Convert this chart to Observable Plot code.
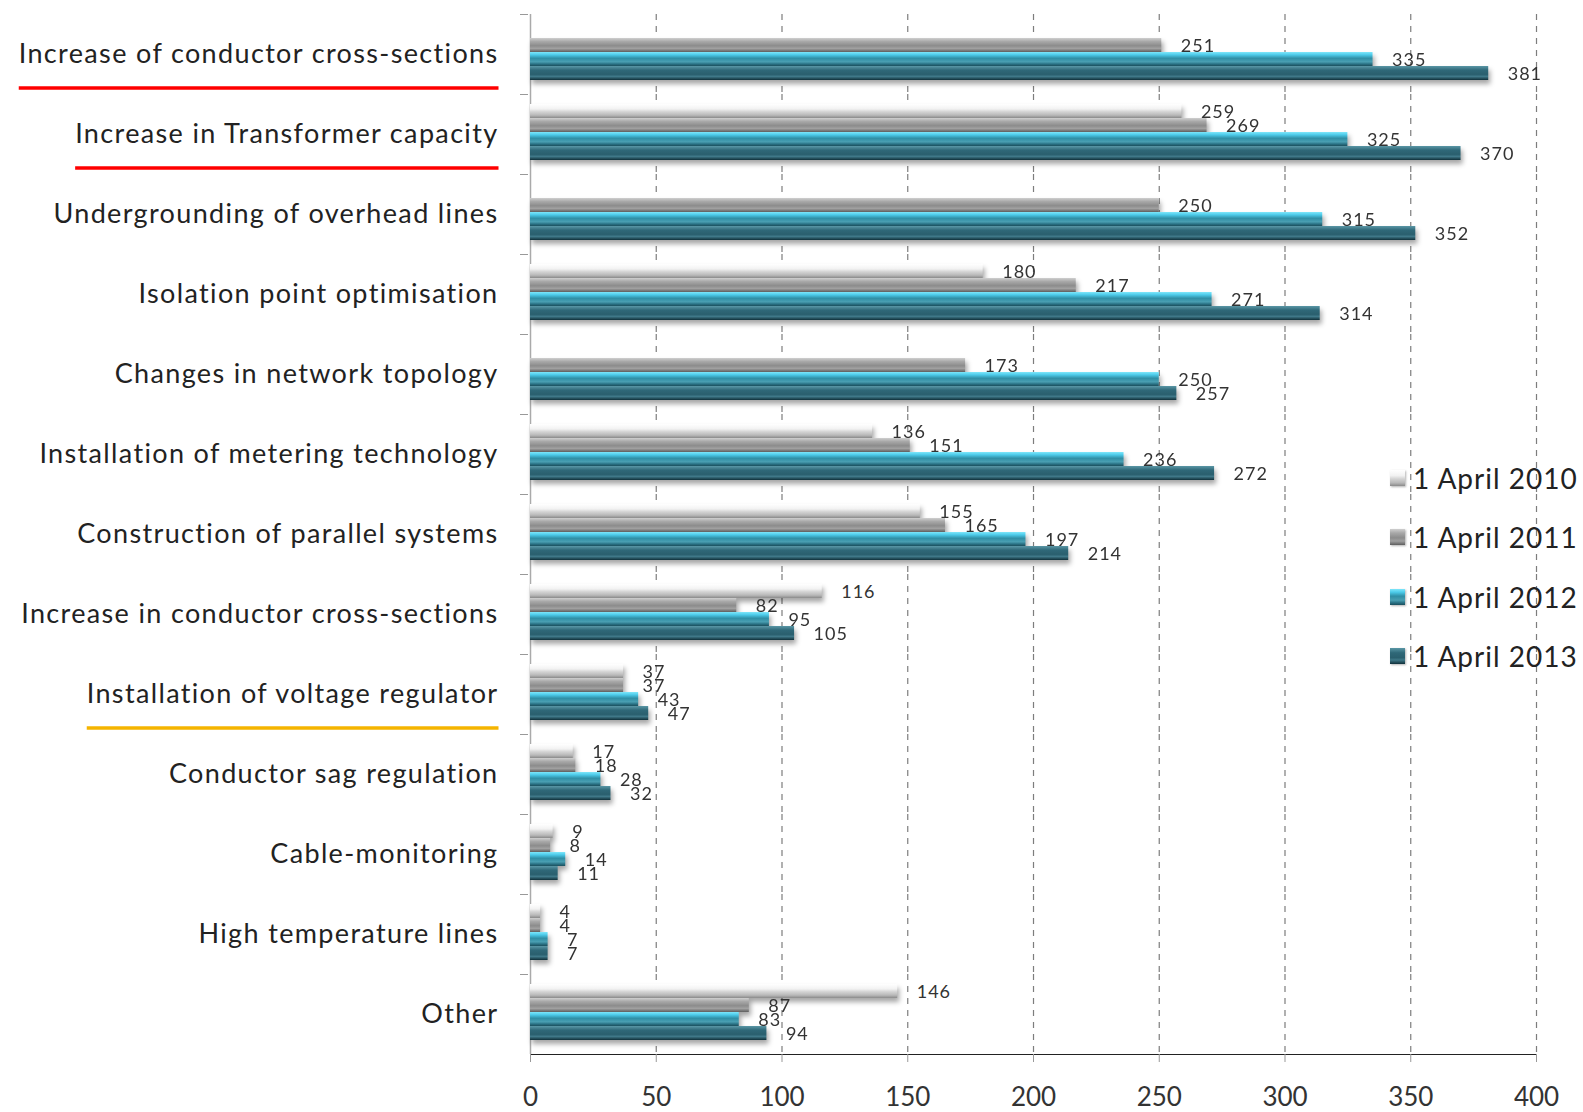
<!DOCTYPE html>
<html><head><meta charset="utf-8">
<script src="https://cdn.jsdelivr.net/npm/d3@7"></script>
<script src="https://cdn.jsdelivr.net/npm/@observablehq/plot@0.6"></script>
<style>
body{margin:0;background:#fff;}
#wrap{position:relative;width:1583px;height:1112px;font-family:Lato,"Noto Sans",sans-serif;}
#legend{position:absolute;left:1390px;top:448px;}
.li{display:flex;align-items:center;height:59.5px;font-size:28px;color:#222;letter-spacing:1px;}
.sw{width:15px;height:16px;margin-right:8px;box-shadow:1px 1px 2px rgba(0,0,0,.3);}
</style></head><body><div id="wrap"><div id="legend"></div></div>
<script>
const categories = [
  "Increase of conductor cross-sections",
  "Increase in Transformer capacity",
  "Undergrounding of overhead lines",
  "Isolation point optimisation",
  "Changes in network topology",
  "Installation of metering technology",
  "Construction of parallel systems",
  "Increase in conductor cross-sections",
  "Installation of voltage regulator",
  "Conductor sag regulation",
  "Cable-monitoring",
  "High temperature lines",
  "Other"
];
const seriesNames = ["1 April 2010","1 April 2011","1 April 2012","1 April 2013"];
const v2010 = [null,259,null,180,null,136,155,116,37,17,9,4,146];
const v2011 = [251,269,250,217,173,151,165,82,37,18,8,4,87];
const v2012 = [335,325,315,271,250,236,197,95,43,28,14,7,83];
const v2013 = [381,370,352,314,257,272,214,105,47,32,11,7,94];
const xTicks = [0,50,100,150,200,250,300,350,400];
const underlined = [
  {cat:"Increase of conductor cross-sections", color:"#ff0000"},
  {cat:"Increase in Transformer capacity", color:"#ff0000"},
  {cat:"Installation of voltage regulator", color:"#f5b400"}
];

const gradStops = [
  [["0","#ffffff"],["0.35","#f2f2f2"],["0.55","#d4d4d4"],["0.8","#b8b8b8"],["1","#8a8a8a"]],
  [["0","#cfcfcf"],["0.25","#a8a8a8"],["0.55","#8c8c8c"],["0.75","#a0a0a0"],["1","#5e5e5e"]],
  [["0","#7fe6fa"],["0.2","#4ccbea"],["0.45","#2f8fa6"],["0.7","#4a9fb2"],["0.85","#2b7487"],["1","#1b4f5d"]],
  [["0","#5a97a6"],["0.3","#2f6878"],["0.6","#2a5f6e"],["0.75","#3f7888"],["1","#0f2f39"]]
];
const cssGrad = gradStops.map(s => `linear-gradient(${s.map(([o,c])=>`${c} ${o*100}%`).join(",")})`);

const values = [v2010, v2011, v2012, v2013];
const rows = [];
categories.forEach((c, i) => {
  seriesNames.forEach((s, j) => {
    const v = values[j][i];
    if (v != null) rows.push({cat: c, series: s, value: v});
  });
});

const W = 1583, H = 1112, mL = 530, mR = 47, mT = 10, mB = 54;

const plot = Plot.plot({
  width: W, height: H,
  marginLeft: mL, marginRight: mR, marginTop: mT, marginBottom: mB,
  style: {fontFamily: "Lato, 'Noto Sans', sans-serif", fontSize: "26px", color: "#222", background: "#fff"},
  x: {domain: [0, 400], ticks: xTicks, line: true, label: null, tickSize: 8, tickPadding: 25},
  y: {domain: seriesNames, axis: null, paddingInner: 0, paddingOuter: 0.78, align: 0.42},
  fy: {domain: categories, padding: 0, label: null, tickSize: 0, tickPadding: 32},
  color: {domain: seriesNames, range: seriesNames.map((d, i) => `url(#g${i})`)},
  marks: [
    Plot.gridX(xTicks.filter(d => d > 0), {stroke: "#666", strokeOpacity: 0.85, strokeDasharray: "6,6", strokeWidth: 1.2}),
    Plot.ruleX([0], {stroke: "#aaa", strokeWidth: 1.5}),
    Plot.frame({anchor: "top", stroke: "#999", insetLeft: -10, insetRight: W - mL - mR + 3}),
    Plot.barX(rows, {x: "value", y: "series", fy: "cat", fill: "series"}),
    Plot.text(rows, {x: "value", y: "series", fy: "cat", text: d => String(d.value), textAnchor: "start", dx: 19, dy: 1, fontSize: 18, fill: "#333"})
  ]
});

// gradients
const ns = "http://www.w3.org/2000/svg";
const defs = document.createElementNS(ns, "defs");
gradStops.forEach((stops, i) => {
  const g = document.createElementNS(ns, "linearGradient");
  g.setAttribute("id", `g${i}`);
  g.setAttribute("x1", "0"); g.setAttribute("y1", "0"); g.setAttribute("x2", "0"); g.setAttribute("y2", "1");
  stops.forEach(([o, c]) => {
    const st = document.createElementNS(ns, "stop");
    st.setAttribute("offset", o); st.setAttribute("stop-color", c);
    g.appendChild(st);
  });
  defs.appendChild(g);
});
plot.insertBefore(defs, plot.firstChild);

const wrap = document.getElementById("wrap");
wrap.insertBefore(plot, wrap.firstChild);
plot.style.position = "absolute"; plot.style.left = "0"; plot.style.top = "0";

plot.querySelectorAll('g[aria-label="bar"]').forEach(g => g.style.filter = "drop-shadow(2px 4px 2.5px rgba(0,0,0,0.35))");
plot.querySelectorAll('g[aria-label="text"]').forEach(g => g.style.letterSpacing = "1px");
plot.querySelectorAll('g[aria-label="fy-axis tick label"] text').forEach(t => { t.style.fontSize = "27px"; t.style.letterSpacing = "1.35px"; t.setAttribute("fill", "#222"); });
plot.querySelectorAll('g[aria-label="x-axis tick label"] text').forEach(t => t.setAttribute("fill", "#333"));
plot.querySelectorAll('g[aria-label="x-axis tick"] path, g[aria-label="x-axis tick"]').forEach(t => t.setAttribute("stroke", "#999"));

// underlines under selected category labels
const wr = wrap.getBoundingClientRect();
const fy = plot.scale("fy");
plot.querySelectorAll('g[aria-label="fy-axis tick label"] text').forEach(t => {
  const u = underlined.find(d => d.cat === t.textContent);
  if (!u) return;
  const r = t.getBoundingClientRect();
  const yC = fy.apply(u.cat) + fy.bandwidth / 2;
  const line = document.createElementNS(ns, "line");
  line.setAttribute("x1", r.left - wr.left);
  line.setAttribute("x2", r.right - wr.left);
  line.setAttribute("y1", yC + 34); line.setAttribute("y2", yC + 34);
  line.setAttribute("stroke", u.color); line.setAttribute("stroke-width", 3.5);
  plot.appendChild(line);
});

// legend
const lg = document.getElementById("legend");
seriesNames.forEach((s, i) => {
  const d = document.createElement("div"); d.className = "li";
  const sw = document.createElement("span"); sw.className = "sw"; sw.style.background = cssGrad[i];
  const tx = document.createElement("span"); tx.textContent = s;
  d.appendChild(sw); d.appendChild(tx); lg.appendChild(d);
});
</script></body></html>
